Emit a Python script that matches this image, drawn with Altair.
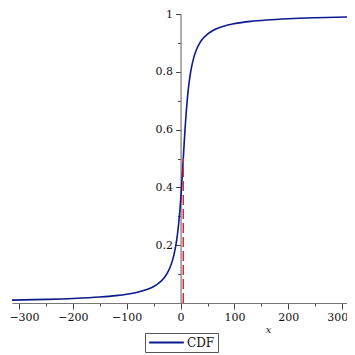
import altair as alt
import pandas as pd

# CDF curve
x_vals = [-313, -250, -200, -150, -120, -100, -80, -60, -50, -40, -30, -25, -20, -15, -10, -7, -5, -3, -1, 0,
          1, 3, 5, 7, 9, 11, 13, 15, 18, 20, 25, 30, 35, 40, 50, 60, 80, 100, 130, 160, 200, 250, 309]
cdf_vals = [0.0100, 0.0125, 0.0155, 0.0205, 0.0254, 0.0302, 0.0373, 0.0486, 0.0573, 0.0696, 0.0886, 0.1024,
            0.1211, 0.1476, 0.1872, 0.2211, 0.2500, 0.2852, 0.3280, 0.3524,
            0.3789, 0.4372, 0.5000, 0.5628, 0.6211, 0.6720, 0.7148, 0.7500, 0.7913, 0.8128, 0.8524, 0.8789,
            0.8976, 0.9114, 0.9304, 0.9428, 0.9578, 0.9666, 0.9746, 0.9795, 0.9837, 0.9870, 0.9896]
series_name = ["CDF"]

# dashed marker line
marker_x = [5]
marker_y0 = [0.0]
marker_y1 = [0.5]

x_ticks = [-300, -250, -200, -150, -100, -50, 0, 50, 100, 150, 200, 250, 300]
y_ticks = [0.1, 0.2, 0.3, 0.4, 0.5, 0.6, 0.7, 0.8, 0.9, 1.0]

x_domain = [-313, 309]
y_domain = [0, 1]

W, H = 335, 289
FONT = "DejaVu Serif"

curve_df = pd.DataFrame({"x": x_vals, "y": cdf_vals, "s": series_name * len(x_vals)})
marker_df = pd.DataFrame({"x": marker_x, "y": marker_y0, "y2": marker_y1})

y_axis_offset = -(0 - x_domain[0]) / (x_domain[1] - x_domain[0]) * W

x_scale = alt.Scale(domain=x_domain, nice=False, zero=False)
y_scale = alt.Scale(domain=y_domain, nice=False)

x_major = "datum.value % 100 == 0"
y_major = "datum.value == 0.2 || datum.value == 0.4 || datum.value == 0.6 || datum.value == 0.8 || datum.value == 1"

x_axis = alt.Axis(values=x_ticks, grid=False, format="d",
                  labelExpr=f"({x_major}) ? datum.label : ''",
                  title="x", titleFontStyle="italic", titleFontWeight="normal",
                  titleFont=FONT, titleFontSize=10, titleColor="#222",
                  titleX=256, titleY=26, titleAnchor="start", titleAlign="center",
                  titleBaseline="middle",
                  labelFont=FONT, labelFontSize=11, labelColor="#111",
                  labelPadding=2, tickColor="#444",
                  tickSize={"condition": {"test": x_major, "value": 6}, "value": 3},
                  labelOffset={"condition": [{"test": "datum.value == -300", "value": 5},
                                             {"test": "datum.value == 300", "value": -5}], "value": 0},
                  domainColor="#777", domainWidth=1.2, labelFlush=False, labelBound=False)
y_axis = alt.Axis(values=y_ticks, grid=False, format="~g",
                  labelExpr=f"({y_major}) ? datum.label : ''",
                  title=None, offset=y_axis_offset,
                  labelFont=FONT, labelFontSize=11, labelColor="#111",
                  labelPadding=3, tickColor="#444",
                  tickSize={"condition": {"test": y_major, "value": 5}, "value": 3},
                  domainColor="#777", domainWidth=1.2, labelFlush=False)

curve = alt.Chart(curve_df).mark_line(strokeWidth=1.6, interpolate="monotone").encode(
    x=alt.X("x:Q", scale=x_scale, axis=x_axis),
    y=alt.Y("y:Q", scale=y_scale, axis=y_axis),
    color=alt.Color("s:N", scale=alt.Scale(domain=series_name, range=["#0b1a8c"]),
                    legend=alt.Legend(title=None, orient="none", legendX=133, legendY=319,
                                      symbolType="M-1,0H1", symbolSize=1200, symbolStrokeWidth=2,
                                      clipHeight=13,
                                      labelFont=FONT, labelFontSize=12, labelColor="#111",
                                      strokeColor="#555", padding=3, labelOffset=2)),
)

marker = alt.Chart(marker_df).mark_rule(color="#d42a3a", strokeWidth=1.5, strokeDash=[10, 4]).encode(
    x=alt.X("x:Q", scale=x_scale, axis=x_axis),
    y=alt.Y("y:Q", scale=y_scale, axis=y_axis),
    y2="y2:Q",
)

chart = alt.layer(curve, marker).properties(
    width=W, height=H,
    autosize=alt.AutoSizeParams(type="none"),
    padding={"left": 4, "top": 6, "right": 0, "bottom": 52},
).configure_view(stroke=None).configure_axis(domainCap="butt")

chart.save("out.html", embed_options={"renderer": "svg", "actions": False})
